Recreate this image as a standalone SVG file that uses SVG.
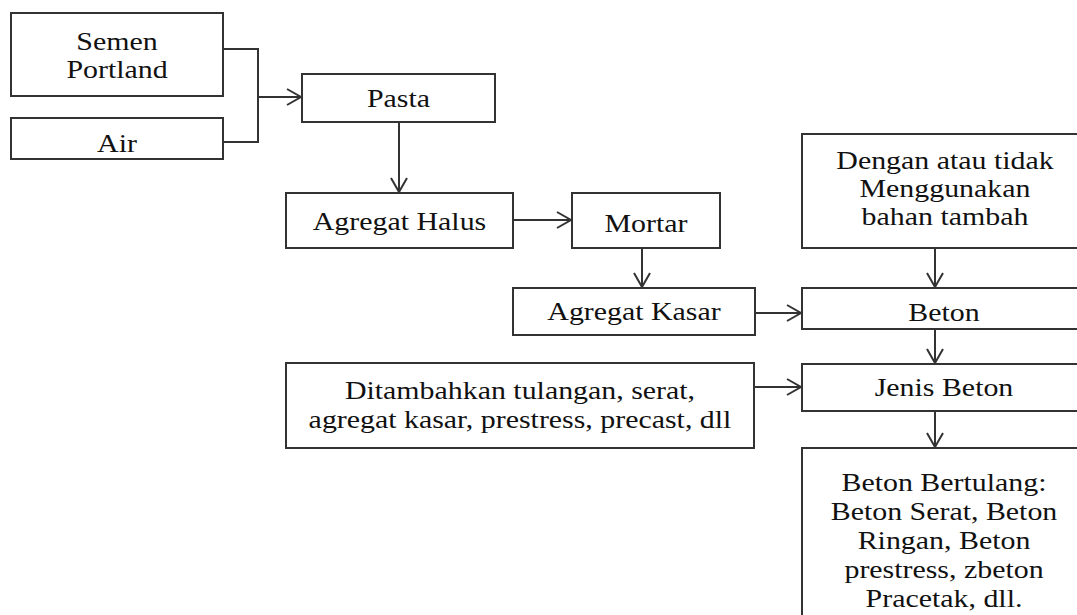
<svg xmlns="http://www.w3.org/2000/svg" width="1077" height="615" viewBox="0 0 1077 615">
<style>
.box{fill:#fff;stroke:#333;stroke-width:2}
.t{font-family:"Liberation Serif","Times New Roman",serif;font-size:26px;fill:#111;text-anchor:middle}
.c{fill:none;stroke:#333;stroke-width:2}
</style>
<defs>
<marker id="arr" viewBox="-16 -10 18 20" markerWidth="18" markerHeight="20" refX="0" refY="0" orient="auto" markerUnits="userSpaceOnUse">
<path d="M-14,-8 L0,0 L-14,8" fill="none" stroke="#333" stroke-width="2"/>
</marker>
</defs>
<rect width="1077" height="615" fill="#fff"/>
<g id="connectors">
<path class="c" d="M223,49 H258 V142 H223"/>
<path class="c" d="M258,97 H301" marker-end="url(#arr)"/>
<path class="c" d="M399,122 V192" marker-end="url(#arr)"/>
<path class="c" d="M513,220 H571" marker-end="url(#arr)"/>
<path class="c" d="M642,248 V287" marker-end="url(#arr)"/>
<path class="c" d="M755,313 H801" marker-end="url(#arr)"/>
<path class="c" d="M935,248 V287" marker-end="url(#arr)"/>
<path class="c" d="M935,329 V363" marker-end="url(#arr)"/>
<path class="c" d="M754,387 H801" marker-end="url(#arr)"/>
<path class="c" d="M935,411 V447" marker-end="url(#arr)"/>
</g>
<g id="semen">
<rect class="box" x="11" y="13" width="212" height="83"/>
<text class="t" transform="translate(117,50) scale(1.15,1)"><tspan x="0">Semen</tspan><tspan x="0" dy="28">Portland</tspan></text>
</g>
<g id="air">
<rect class="box" x="11" y="118" width="212" height="41"/>
<text class="t" transform="translate(117,152) scale(1.15,1)">Air</text>
</g>
<g id="pasta">
<rect class="box" x="302" y="74" width="193" height="48"/>
<text class="t" transform="translate(398.5,107) scale(1.15,1)">Pasta</text>
</g>
<g id="agregat-halus">
<rect class="box" x="286" y="193" width="227" height="55"/>
<text class="t" transform="translate(399.5,230) scale(1.15,1)">Agregat Halus</text>
</g>
<g id="mortar">
<rect class="box" x="572" y="193" width="148" height="55"/>
<text class="t" transform="translate(646,232) scale(1.15,1)">Mortar</text>
</g>
<g id="agregat-kasar">
<rect class="box" x="513" y="288" width="242" height="47"/>
<text class="t" transform="translate(634,320) scale(1.15,1)">Agregat Kasar</text>
</g>
<g id="bahan-tambah">
<rect class="box" x="802" y="134" width="285" height="114"/>
<text class="t" transform="translate(945,169) scale(1.15,1)"><tspan x="0">Dengan atau tidak</tspan><tspan x="0" dy="28">Menggunakan</tspan><tspan x="0" dy="28">bahan tambah</tspan></text>
</g>
<g id="beton">
<rect class="box" x="802" y="288" width="285" height="41"/>
<text class="t" transform="translate(944,321) scale(1.15,1)">Beton</text>
</g>
<g id="ditambahkan">
<rect class="box" x="286" y="363" width="468" height="85"/>
<text class="t" transform="translate(520,399) scale(1.15,1)"><tspan x="0">Ditambahkan tulangan, serat,</tspan><tspan x="0" dy="29">agregat kasar, prestress, precast, dll</tspan></text>
</g>
<g id="jenis-beton">
<rect class="box" x="802" y="364" width="285" height="47"/>
<text class="t" transform="translate(944,396) scale(1.15,1)">Jenis Beton</text>
</g>
<g id="beton-bertulang">
<rect class="box" x="802" y="448" width="285" height="190"/>
<text class="t" transform="translate(944,491) scale(1.15,1)"><tspan x="0">Beton Bertulang:</tspan><tspan x="0" dy="29">Beton Serat, Beton</tspan><tspan x="0" dy="29">Ringan, Beton</tspan><tspan x="0" dy="29">prestress, zbeton</tspan><tspan x="0" dy="29">Pracetak, dll.</tspan></text>
</g>
</svg>
